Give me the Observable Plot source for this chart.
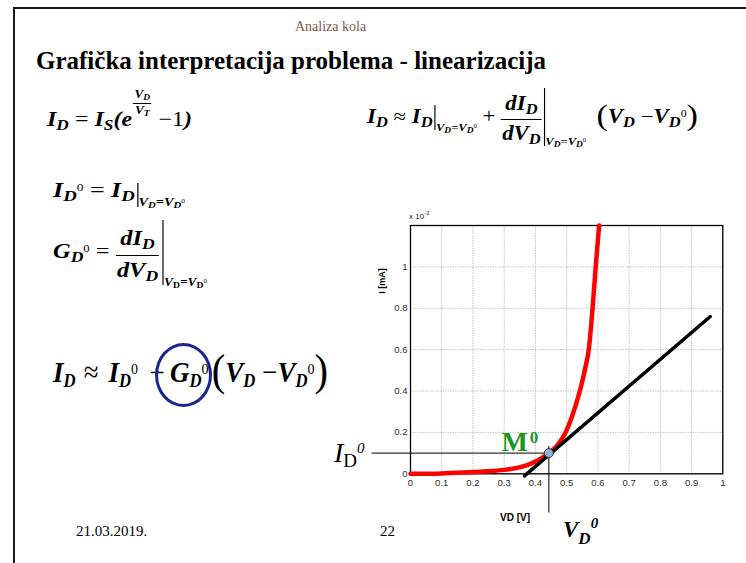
<!DOCTYPE html>
<html>
<head>
<meta charset="utf-8">
<script src="https://cdn.jsdelivr.net/npm/d3@7"></script>
<script src="https://cdn.jsdelivr.net/npm/@observablehq/plot@0.6"></script>
<style>
  html, body { margin: 0; padding: 0; background: #fff; }
  #slide { position: relative; width: 746px; height: 563px; overflow: hidden; background: #fff; }
  #slide > svg { position: absolute; left: 0; top: 0; }
  .t, .m { position: absolute; left: 0; top: 0; white-space: nowrap; line-height: 1;
           font-family: "Liberation Serif", "Times New Roman", serif; color: #000; }
  .m { font-weight: bold; font-style: italic; transform-origin: 0 0; }
  .base { display: inline-block; width: 0; height: 0; vertical-align: baseline; }
  .m .b { font-size: .72em; vertical-align: -.25em; }
  .m .br { font-size: .72em; vertical-align: -.25em; font-style: normal; }
  .m .z { font-size: .52em; font-style: normal; font-weight: normal; vertical-align: .55em; }
  .m .u { font-style: normal; font-weight: normal; }
  .m .P { font-style: normal; font-weight: normal; font-size: 1.5em; vertical-align: -.06em; }
  .m .fr { display: inline-block; text-align: center; line-height: 1.15; }
  .m .fr .n { display: block; border-bottom: 1.4px solid #000; padding: 0 1px 1px; }
  .m .fr .d { display: block; padding: 1px 1px 0; }
  .m .bar { display: inline-block; width: 0; border-left: 1.3px solid #000; }
  .m .ev { font-size: .55em; }
  .m .ev .b { font-size: .75em; }
  .sans { font-family: "Liberation Sans", Arial, Helvetica, sans-serif; }
  .edge { position: absolute; background: #1a1a1a; }
  .ring { position: absolute; box-sizing: border-box; border: 3px solid #1b2592; border-radius: 50%; }
</style>
</head>
<body>
<div id="slide">
  <div class="edge" style="left:12.5px;top:7px;width:2.6px;height:560px"></div>
  <div class="edge" style="left:12.5px;top:7px;width:740px;height:2px"></div>

  <div class="t" data-x="295" data-y="31" style="font-size:14px;color:#7a5a4e">Analiza kola</div>
  <div class="t" data-x="36" data-y="69" style="font-size:25px;font-weight:bold">Grafička interpretacija problema - linearizacija</div>

  <!-- diode equation -->
  <div class="m" data-x="47" data-y="126" data-w="145" style="font-size:21px">I<span class="b">D</span> <span class="u">=</span> I<span class="b">S</span>(e<span class="fr" style="font-size:.55em;line-height:.95;vertical-align:12px;margin:0 1px"><span class="n">V<span class="b">D</span></span><span class="d">V<span class="b">T</span></span></span> <span class="u">−</span><span class="u">1</span>)</div>

  <!-- Taylor expansion -->
  <div class="m" data-x="367" data-y="123" data-w="331" style="font-size:20px">I<span class="b">D</span> <span class="u">≈</span> I<span class="b">D</span><span class="bar" style="height:25px;vertical-align:-7px;margin-left:2px"></span><span class="ev" style="vertical-align:-8px">V<span class="b">D</span>=V<span class="b">D</span><span class="z">0</span></span> <span class="u">+</span> <span class="fr" style="vertical-align:-17px;line-height:1.2"><span class="n">dI<span class="b">D</span></span><span class="d">dV<span class="b">D</span></span></span><span class="bar" style="height:58px;vertical-align:-23px;margin-left:2px"></span><span class="ev" style="vertical-align:-22px">V<span class="b">D</span>=V<span class="b">D</span><span class="z">0</span></span>&nbsp;&thinsp;<span class="P">(</span>V<span class="b">D</span> <span class="u">−</span>V<span class="b">D</span><span class="z">0</span><span class="P">)</span></div>

  <!-- operating point current -->
  <div class="m" data-x="53" data-y="197" data-w="132" style="font-size:21px">I<span class="b">D</span><span class="z">0</span> <span class="u">=</span> I<span class="b">D</span><span class="bar" style="height:24px;vertical-align:-10px;margin-left:2px"></span><span class="ev" style="vertical-align:-9px">V<span class="b">D</span>=V<span class="b">D</span><span class="z">0</span></span></div>

  <!-- conductance -->
  <div class="m" data-x="53" data-y="258" data-w="154" style="font-size:21px">G<span class="b">D</span><span class="z">0</span> <span class="u">=</span> <span class="fr" style="vertical-align:-19px;line-height:1.25"><span class="n">dI<span class="b">D</span></span><span class="d">dV<span class="b">D</span></span></span><span class="bar" style="height:65px;vertical-align:-27px;margin-left:3px"></span><span class="ev" style="vertical-align:-28px">V<span class="br">D</span>=V<span class="br">D</span><span class="z">0</span></span></div>

  <!-- linearised model -->
  <div class="m" data-x="53" data-y="382" data-w="275" style="font-size:30px">I<span class="b" style="font-size:.62em">D</span><span class="u" style="margin:0 .12em 0 .3em">≈</span> I<span class="b" style="font-size:.62em">D</span><span class="z">0</span><span class="u" style="margin:0 .2em 0 .42em">+</span>G<span class="b" style="font-size:.62em">D</span><span class="z">0</span><span class="P" style="margin-left:.08em">(</span>V<span class="b" style="font-size:.62em">D</span> <span class="u">−</span>V<span class="b" style="font-size:.62em">D</span><span class="z">0</span><span class="P">)</span></div>
  <div class="ring" style="left:155px;top:343px;width:57px;height:64px"></div>

  <div class="t" data-x="76" data-y="536" style="font-size:15px">21.03.2019.</div>
  <div class="t" data-x="380" data-y="536" style="font-size:15px">22</div>

  <!-- chart annotations -->
  <div class="t sans" data-x="409" data-y="219" style="font-size:8px;color:#222">x 10<span style="font-size:6px;vertical-align:4px">-3</span></div>
  <div class="t sans" style="font-size:9px;font-weight:bold;left:381.5px;top:281px;transform:translate(-50%,-50%) rotate(-90deg)">I [mA]</div>
  <div class="t sans" style="font-size:10px;font-weight:bold;left:515px;top:518px;transform:translate(-50%,-50%)">VD [V]</div>
  <div class="t" data-x="334" data-y="462" style="font-size:28px;font-style:italic">I<span style="font-style:normal;font-size:19px;vertical-align:-5px">D</span><span style="font-size:15px;vertical-align:9px">0</span></div>
  <div class="m" data-x="563" data-y="537" style="font-size:23px">V<span style="font-size:17px;vertical-align:-7px">D</span><span style="font-size:15px;vertical-align:9px">0</span></div>
</div>

<script>
// Diode characteristic I_D(V_D) in units of 1e-3
const vd = [0, 0.1, 0.19, 0.245, 0.3, 0.352, 0.384, 0.416, 0.443, 0.47, 0.496, 0.518, 0.542, 0.56, 0.571, 0.583, 0.593, 0.604];
const id = [0, 0.002, 0.007, 0.012, 0.019, 0.032, 0.048, 0.072, 0.1, 0.137, 0.198, 0.281, 0.399, 0.514, 0.603, 0.8, 1.0, 1.2];

// Tangent at the operating point
const tanV = [0.365, 0.96];
const tanI = [-0.01, 0.76];

// Operating point M0
const v0 = 0.443;
const i0 = 0.1;

const xTicks = [0, 0.1, 0.2, 0.3, 0.4, 0.5, 0.6, 0.7, 0.8, 0.9, 1];
const yTicks = [0, 0.2, 0.4, 0.6, 0.8, 1];

const curve = vd.map((v, k) => ({v, i: id[k]}));
const tangent = tanV.map((v, k) => ({v, i: tanI[k]}));
const point = [{v: v0, i: i0}];
const fmt = d => String(+d.toFixed(1));

const chart = Plot.plot({
  width: 746,
  height: 563,
  marginLeft: 410,
  marginRight: 23.7,
  marginTop: 225,
  marginBottom: 89.7,
  style: {background: "transparent", overflow: "visible", fontFamily: "Liberation Sans, Arial, sans-serif", fontSize: "9.5px", color: "#2a2a2a"},
  x: {domain: [0, 1]},
  y: {domain: [0, 1.2]},
  marks: [
    Plot.gridX(xTicks, {stroke: "#b5b5b5", strokeOpacity: 1, strokeWidth: 0.8, strokeDasharray: "1.5,1"}),
    Plot.gridY(yTicks, {stroke: "#b5b5b5", strokeOpacity: 1, strokeWidth: 0.8, strokeDasharray: "1.5,1"}),
    Plot.frame({stroke: "#000", strokeWidth: 1.3}),
    Plot.axisX(xTicks, {tickSize: 0, tickPadding: 5, tickFormat: fmt, label: null}),
    Plot.axisY(yTicks, {tickSize: 0, tickPadding: 3, tickFormat: fmt, label: null}),
    // guide lines to the operating point
    Plot.ruleY(point, {y: "i", x1: -0.123, x2: "v", stroke: "#000", strokeWidth: 1}),
    Plot.ruleX(point, {x: "v", y1: 0.132, y2: -0.19, stroke: "#000", strokeWidth: 1}),
    Plot.line(curve, {x: "v", y: "i", stroke: "#ff0000", strokeWidth: 4.5, curve: "monotone-x"}),
    Plot.line(tangent, {x: "v", y: "i", stroke: "#000", strokeWidth: 3.5}),
    Plot.dot(point, {x: "v", y: "i", r: 4.5, fill: "#8fb3d6", stroke: "#333", strokeWidth: 1}),
    Plot.text(point, {x: "v", y: "i", text: () => "M", textAnchor: "end", lineAnchor: "bottom", dx: -21, dy: -2,
      fill: "#1e961e", fontSize: 28, fontWeight: "bold", fontFamily: "Liberation Serif, Times New Roman, serif"}),
    Plot.text(point, {x: "v", y: "i", text: () => "0", textAnchor: "start", lineAnchor: "bottom", dx: -19, dy: -10,
      fill: "#1e961e", fontSize: 17, fontWeight: "bold", fontFamily: "Liberation Serif, Times New Roman, serif"})
  ]
});

const slide = document.getElementById("slide");
slide.insertBefore(chart, slide.firstChild);

// place text blocks by their baseline; equations are stretched to their set width
const origin = slide.getBoundingClientRect();
for (const el of slide.querySelectorAll("[data-x]")) {
  const m = document.createElement("span");
  m.className = "base";
  el.insertBefore(m, el.firstChild);
  el.style.left = el.dataset.x + "px";
  el.style.top = "0px";
  const b = m.getBoundingClientRect().top - origin.top;
  el.style.top = (+el.dataset.y - b) + "px";
  if (el.dataset.w) {
    const w = el.getBoundingClientRect().width;
    el.style.transform = `scaleX(${+el.dataset.w / w})`;
  }
}
</script>
</body>
</html>
